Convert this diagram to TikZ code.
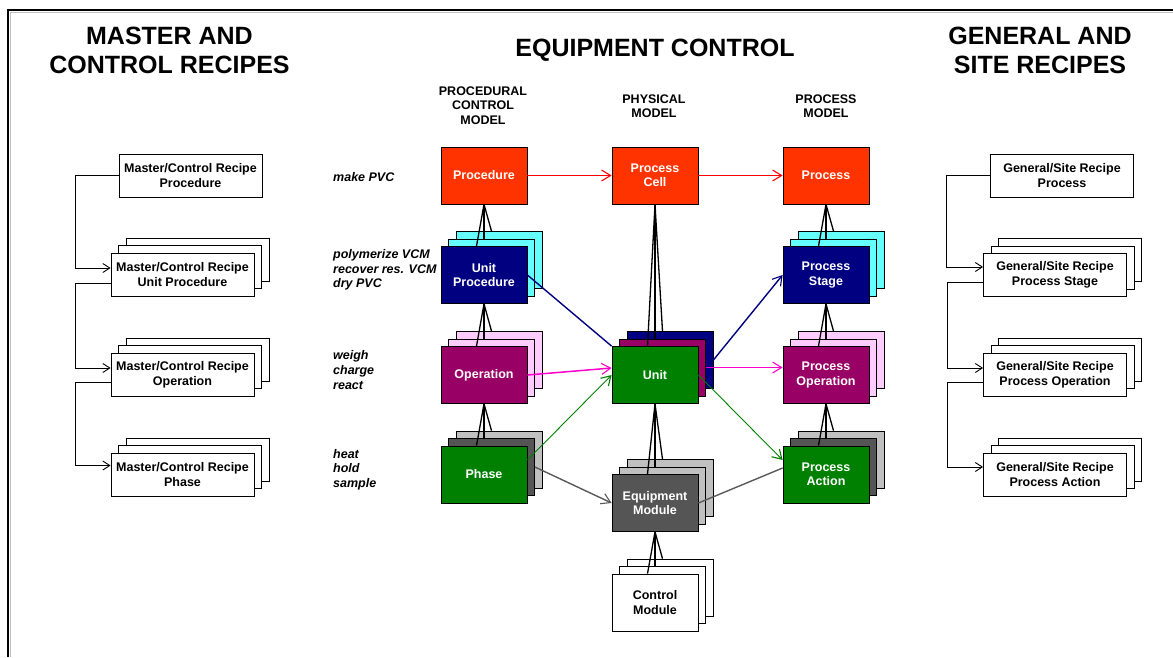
\documentclass[tikz,border=0pt]{standalone}
\usepackage{fontspec}
\setmainfont{Liberation Sans}
\usetikzlibrary{calc,arrows.meta}
\definecolor{cOrange}{RGB}{255,51,0}
\definecolor{cNavy}{RGB}{0,0,128}
\definecolor{cCyan}{RGB}{102,255,255}
\definecolor{cPurple}{RGB}{153,0,102}
\definecolor{cPink}{RGB}{255,204,255}
\definecolor{cGreen}{RGB}{0,128,0}
\definecolor{cDGrey}{RGB}{85,85,85}
\definecolor{cLGrey}{RGB}{192,192,192}
\definecolor{cMag}{RGB}{255,0,204}
\definecolor{cRed}{RGB}{255,0,0}
\definecolor{cLine}{RGB}{90,90,90}
\newcommand{\mystack}[6]{%
  \node[#4] (#1-3) at ($(#2)+(15,-15)$) {};
  \node[#3] (#1-2) at ($(#2)+(7.5,-7.5)$) {};
  \node[#5] (#1) at (#2) {#6};
}
\newcommand{\myfan}[2]{%
  \draw[fanl] (#1.south) -- ($(#2.north)+(-7.5,0)$);
  \draw[fanl] (#1.south) -- ($(#2-2.north)+(-7.5,0)$);
  \draw[fanl] (#1.south) -- ($(#2-3.north)+(-7.5,0)$);
}
\begin{document}
\begin{tikzpicture}[x=1pt,y=-1pt,
  cbox/.style={draw=black, line width=0.8pt, minimum width=86pt, minimum height=57pt,
    inner sep=0pt, align=center, font=\bfseries\fontsize{12.5}{14.5}\selectfont, text=white},
  sbox/.style={draw=black, line width=0.8pt, fill=white, minimum width=143pt, minimum height=43pt,
    inner sep=0pt, align=center, font=\bfseries\fontsize{12.5}{15}\selectfont, text=black},
  title/.style={align=center, font=\bfseries\fontsize{25}{29}\selectfont},
  header/.style={align=center, font=\bfseries\fontsize{12.5}{14.5}\selectfont},
  lbl/.style={anchor=west, align=left, inner sep=0pt, font=\bfseries\itshape\fontsize{12.5}{14.7}\selectfont},
  fanl/.style={draw=black, line width=1.3pt},
  larr/.style={draw=black, line width=0.8pt, -{Straight Barb[length=7pt,width=9pt,line width=0.9pt]}},
  arr/.style={-{Straight Barb[length=9pt,width=11pt,line width=1.1pt]}},
  redl/.style={draw=cRed, line width=1.5pt},
  navyl/.style={draw=cNavy, line width=1.4pt},
  magl/.style={draw=cMag, line width=1.5pt},
  greenl/.style={draw=cGreen, line width=0.9pt},
  greyl/.style={draw=cLine, line width=1.4pt}
]
\useasboundingbox (0,0) rectangle (1173,657);
\fill[white] (0,0) rectangle (1173,657);
% frame
\draw[cLGrey, line width=1pt] (10.5,657) -- (10.5,12.5) -- (1173,12.5);
\draw[black, line width=1.8pt] (8,657) -- (8,10) -- (1173,10);

% titles
\node[title] (tLeft) at (169.5,50.5) {MASTER AND\\CONTROL RECIPES};
\node[title] (tMid) at (655,50) {EQUIPMENT CONTROL};
\node[title] (tRight) at (1040,50.5) {GENERAL AND\\SITE RECIPES};

% headers
\node[header] (hProc) at (483,105.5) {PROCEDURAL\\CONTROL\\MODEL};
\node[header] (hPhys) at (654,106) {PHYSICAL\\MODEL};
\node[header] (hProcess) at (826,106) {PROCESS\\MODEL};

% italic labels
\node[lbl] (lab1) at (333,177) {make PVC};
\node[lbl] (lab2) at (333,270) {polymerize VCM\\recover res. VCM\\dry PVC};
\node[lbl] (lab3) at (333,370) {weigh\\charge\\react};
\node[lbl] (lab4) at (333,469.5) {heat\\hold\\sample};

% left column
\node[sbox] (L1) at (190.5,175.5) {Master/Control Recipe\\Procedure};
\mystack{L2}{182.5,274.5}{sbox}{sbox}{sbox}{Master/Control Recipe\\Unit Procedure}
\mystack{L3}{182.5,374.5}{sbox}{sbox}{sbox}{Master/Control Recipe\\Operation}
\mystack{L4}{182.5,474.5}{sbox}{sbox}{sbox}{Master/Control Recipe\\Phase}

% right column
\node[sbox] (R1) at (1062,175.5) {General/Site Recipe\\Process};
\mystack{R2}{1055,275}{sbox}{sbox}{sbox}{General/Site Recipe\\Process Stage}
\mystack{R3}{1055,374.5}{sbox}{sbox}{sbox}{General/Site Recipe\\Process Operation}
\mystack{R4}{1055,474.5}{sbox}{sbox}{sbox}{General/Site Recipe\\Process Action}

% centre boxes
\node[cbox, fill=cOrange] (Proc) at (484,175.5) {Procedure};
\node[cbox, fill=cOrange] (Cell) at (655,175.5) {Process\\Cell};
\node[cbox, fill=cOrange] (Process) at (826,175.5) {Process};
\mystack{UP}{484,275}{cbox,fill=cCyan}{cbox,fill=cCyan}{cbox,fill=cNavy}{Unit\\Procedure}
\mystack{PS}{826,275}{cbox,fill=cCyan}{cbox,fill=cCyan}{cbox,fill=cNavy}{Process\\Stage}
\mystack{Op}{484,375}{cbox,fill=cPink}{cbox,fill=cPink}{cbox,fill=cPurple}{Operation}
\mystack{Unit}{655,375}{cbox,fill=cPurple}{cbox,fill=cNavy}{cbox,fill=cGreen}{Unit}
\mystack{PO}{826,375}{cbox,fill=cPink}{cbox,fill=cPink}{cbox,fill=cPurple}{Process\\Operation}
\mystack{Phase}{484,474.5}{cbox,fill=cDGrey}{cbox,fill=cLGrey}{cbox,fill=cGreen}{Phase}
\mystack{PA}{826,474.5}{cbox,fill=cDGrey}{cbox,fill=cLGrey}{cbox,fill=cGreen}{Process\\Action}
\mystack{EM}{655,503}{cbox,fill=cLGrey}{cbox,fill=cLGrey}{cbox,fill=cDGrey}{Equipment\\Module}
\mystack{CM}{655,602.5}{cbox,fill=white}{cbox,fill=white}{cbox,fill=white,text=black}{Control\\Module}

% fan lines
\myfan{Proc}{UP}
\myfan{UP}{Op}
\myfan{Op}{Phase}
\myfan{Cell}{Unit}
\myfan{Unit}{EM}
\myfan{EM}{CM}
\myfan{Process}{PS}
\myfan{PS}{PO}
\myfan{PO}{PA}

% left connectors
\draw[larr] (L1.west) -- ++(-43,0) |- ([yshift=6.5pt]L2.west);
\draw[larr] ([yshift=-8.5pt]L2.west) -- ++(-35,0) |- ([yshift=6.5pt]L3.west);
\draw[larr] ([yshift=-7.5pt]L3.west) -- ++(-35,0) |- ([yshift=9pt]L4.west);
% right connectors
\draw[larr] (R1.west) -- ++(-44,0) |- ([yshift=8pt]R2.west);
\draw[larr] ([yshift=-7pt]R2.west) -- ++(-36,0) |- ([yshift=6.5pt]R3.west);
\draw[larr] ([yshift=-7.5pt]R3.west) -- ++(-36,0) |- ([yshift=7.5pt]R4.west);

% coloured connectors
\draw[redl, arr] (Proc.east) -- (Cell.west);
\draw[redl, arr] (Cell.east) -- (Process.west);
\draw[navyl] (UP.east) -- (Unit.north west);
\draw[navyl, arr] (Unit-3.east) -- (PS.west);
\draw[magl, arr] (Op.east) -- ([yshift=7pt]Unit.west);
\draw[magl, arr] (Unit-2.east) -- (Unit-2.east -| PO.west);
\draw[greenl, arr] ([yshift=14.5pt]Phase.east) -- (Unit.west);
\draw[greenl, arr] (Unit.east) -- ([yshift=14.5pt]PA.west);
\draw[greyl, arr] (Phase-2.east) -- (EM.west);
\draw[greyl] (EM.east) -- ([yshift=6.5pt]PA.west);
\end{tikzpicture}
\end{document}
